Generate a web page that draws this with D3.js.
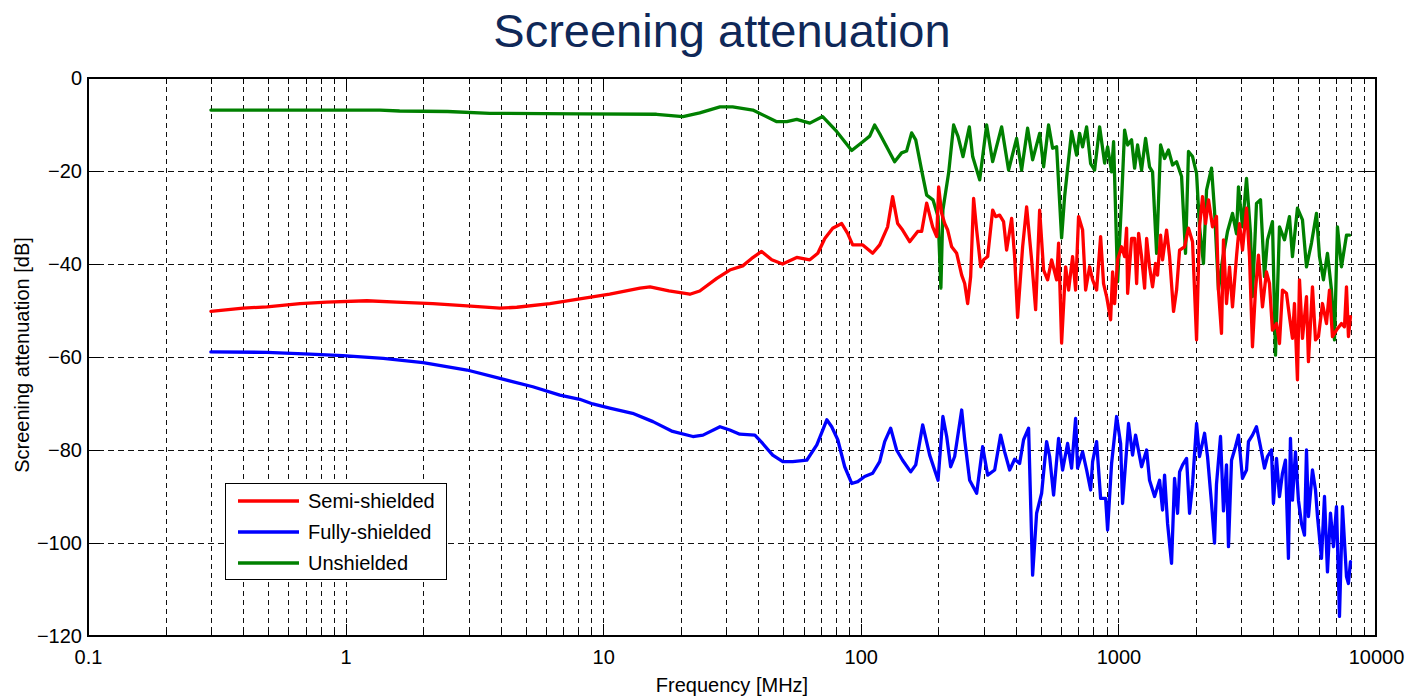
<!DOCTYPE html>
<html>
<head>
<meta charset="utf-8">
<script src="https://cdn.jsdelivr.net/npm/d3@7"></script>
<style>
  html, body { margin: 0; padding: 0; background: #fff; }
  svg { display: block; font-family: "Liberation Sans", Arial, sans-serif; }
</style>
</head>
<body>
<svg id="chart" width="1408" height="696"></svg>
<script>
// ---- data (frequency in MHz, screening attenuation in dB) ----
const title = "Screening attenuation";
const xLabel = "Frequency [MHz]";
const yLabel = "Screening attenuation [dB]";
const xTickValues = [0.1, 1, 10, 100, 1000, 10000];
const xTickLabels = ["0.1", "1", "10", "100", "1000", "10000"];
const yTickValues = [0, -20, -40, -60, -80, -100, -120];
const seriesNames = ["Semi-shielded", "Fully-shielded", "Unshielded"];
const seriesColors = ["#ff0000", "#0000ff", "#008000"];

const semiShielded = [
[0.3,-50.2],[0.4,-49.5],[0.495,-49.2],[0.665,-48.5],[0.846,-48.2],[1.21,-47.9],[1.58,-48.2],[2.18,-48.5],[2.96,-49.0],[3.97,-49.5],[4.62,-49.3],[6.21,-48.5],[8.11,-47.5],[10.6,-46.5],[13.9,-45.2],[15.2,-44.9],[18.0,-45.8],[21.7,-46.5],[23.7,-45.8],[27.6,-43.1],[31.0,-41.3],[34.8,-40.4],[37.7,-38.8],[41.2,-37.3],[45.1,-39.1],[49.7,-40.0],[56.4,-38.6],[63.4,-39.1],[68.1,-37.7],[72.5,-34.5],[77.8,-32.3],[84.3,-31.3],[88.9,-33.4],[93.0,-35.9],[101.8,-35.9],[111.2,-37.7],[118.4,-35.9],[127.1,-32.0],[132.9,-25.5],[139.0,-31.3],[145.3,-32.7],[154.8,-35.2],[166.3,-33.0],[172.3,-33.0],[180.2,-26.9],[190.1,-32.0],[197.1,-34.1],[200.6,-23.4],[206.0,-29.1],[211.7,-31.3],[217.4,-32.7],[225.3,-36.3],[235.6,-37.7],[246.4,-42.4],[253.1,-44.2],[259.9,-48.5],[267.0,-42.7],[274.1,-25.9],[281.7,-32.7],[292.0,-40.6],[299.8,-39.1],[310.8,-38.4],[325.0,-28.4],[333.9,-29.8],[345.9,-29.5],[358.3,-30.9],[368.2,-37.0],[385.1,-30.2],[395.5,-38.4],[406.2,-51.5],[424.8,-36.3],[440.3,-27.7],[460.4,-39.1],[477.2,-49.8],[494.6,-28.4],[512.4,-41.3],[531.1,-43.4],[550.5,-39.1],[575.7,-43.4],[585.9,-35.5],[601.9,-57.0],[623.9,-40.6],[640.8,-45.6],[664.1,-38.4],[682.2,-45.6],[700.4,-29.8],[726.2,-32.7],[746.1,-45.6],[773.2,-40.6],[794.1,-43.4],[823.1,-45.6],[853.0,-34.1],[875.8,-44.2],[900.0,-47.0],[932.8,-52.0],[949.5,-41.7],[966.8,-48.5],[993,-39.1],[1029,-36.3],[1057,-38.4],[1076,-32.3],[1086,-46.3],[1125,-34.5],[1156,-34.5],[1177,-44.2],[1198,-33.4],[1230,-38.4],[1264,-45.2],[1287,-34.5],[1321,-40.6],[1357,-44.9],[1394,-39.9],[1419,-42.4],[1458,-33.8],[1484,-39.1],[1538,-32.7],[1580,-38.4],[1637,-50.2],[1682,-45.6],[1728,-37.0],[1806,-36.3],[1871,-32.3],[1940,-35.2],[2011,-56.3],[2065,-32.0],[2121,-25.5],[2179,-31.3],[2238,-26.2],[2319,-32.0],[2403,-29.8],[2446,-45.6],[2513,-54.9],[2558,-34.8],[2628,-48.5],[2700,-40.6],[2773,-49.2],[2874,-38.4],[2952,-31.3],[3032,-37.0],[3143,-28.0],[3228,-38.4],[3315,-57.8],[3405,-45.6],[3497,-38.1],[3625,-49.2],[3757,-41.7],[3859,-44.2],[3963,-54.2],[4109,-52.8],[4220,-57.1],[4334,-45.6],[4492,-46.3],[4614,-51.3],[4739,-56.0],[4825,-48.5],[4955,-64.9],[5047,-43.4],[5183,-56.0],[5372,-47.0],[5467,-61.0],[5667,-44.9],[5823,-56.3],[5979,-55.6],[6197,-48.5],[6424,-52.8],[6598,-45.6],[6776,-55.6],[7024,-54.2],[7345,-52.8],[7545,-53.5],[7681,-44.9],[7817,-55.6],[7960,-51.3]
];

const fullyShielded = [
[0.3,-58.9],[0.495,-59.0],[0.727,-59.4],[0.976,-59.7],[1.40,-60.3],[2.00,-61.2],[2.96,-62.8],[3.97,-64.6],[5.33,-66.4],[6.79,-68.2],[8.11,-69.1],[9.11,-70.1],[10.6,-71.0],[13.0,-72.1],[15.6,-73.9],[18.6,-76.0],[22.3,-77.1],[24.4,-76.8],[28.4,-75.0],[31.0,-75.7],[33.9,-76.6],[38.8,-76.8],[41.6,-78.6],[45.5,-81.1],[49.8,-82.5],[54.4,-82.5],[61.7,-82.2],[67.5,-78.9],[73.8,-73.5],[77.1,-75.0],[81.4,-77.8],[86.6,-83.6],[92.2,-87.2],[97.3,-86.8],[103.5,-85.7],[111.2,-85.0],[118.4,-82.5],[123.8,-78.2],[130.6,-75.3],[137.7,-80.0],[145.3,-82.2],[156.2,-84.7],[163.4,-83.2],[173.9,-74.6],[185.1,-81.1],[199.5,-86.5],[208.3,-72.8],[215.5,-77.1],[223.3,-83.6],[231.4,-81.4],[246.4,-71.4],[253.1,-77.8],[264.6,-86.5],[281.7,-89.3],[297.2,-79.3],[310.8,-85.4],[330.9,-84.3],[349.0,-76.8],[361.7,-80.4],[378.3,-84.3],[395.5,-82.0],[413.6,-82.9],[428.5,-77.8],[448.1,-75.3],[464.5,-106.9],[481.4,-93.6],[503.5,-89.3],[526.4,-78.2],[540.8,-81.4],[560.3,-89.7],[585.9,-77.5],[607.3,-84.3],[635.0,-78.6],[658.2,-83.9],[682.2,-73.2],[694.4,-83.9],[726.2,-80.4],[752.7,-84.3],[780.2,-88.6],[794.1,-82.5],[823.1,-78.2],[853.0,-90.4],[892.1,-90.4],[908,-97.2],[941,-82.9],[984.2,-72.8],[1020,-78.6],[1038,-91.5],[1095,-74.3],[1135,-81.1],[1166,-76.8],[1230,-83.6],[1287,-80.0],[1321,-86.5],[1382,-90.0],[1445,-86.5],[1484,-92.9],[1511,-85.4],[1552,-95.8],[1608,-104.4],[1652,-86.1],[1697,-93.6],[1728,-84.7],[1775,-83.2],[1839,-81.8],[1889,-93.6],[1940,-87.4],[2011,-74.3],[2065,-81.4],[2160,-76.4],[2218,-81.4],[2299,-91.5],[2361,-100.0],[2403,-87.4],[2491,-77.1],[2558,-93.1],[2628,-83.2],[2675,-100.8],[2749,-82.2],[2848,-79.3],[2925,-76.8],[3032,-86.1],[3143,-84.3],[3198,-78.2],[3315,-76.8],[3436,-75.0],[3562,-79.3],[3691,-83.9],[3791,-81.4],[3928,-80.0],[3998,-91.5],[4109,-81.8],[4220,-90.0],[4334,-85.0],[4453,-82.2],[4572,-103.3],[4655,-77.5],[4739,-90.8],[4868,-80.4],[4999,-90.8],[5138,-95.8],[5277,-98.3],[5372,-80.0],[5467,-94.3],[5667,-84.3],[5823,-88.6],[5927,-94.3],[6143,-103.3],[6310,-90.0],[6480,-106.2],[6657,-93.6],[6836,-100.8],[7024,-92.2],[7215,-115.8],[7410,-92.2],[7681,-107.2],[7817,-108.7],[7960,-104.0]
];

const unshielded = [
[0.3,-6.9],[1.36,-6.9],[1.62,-7.1],[2.49,-7.2],[3.63,-7.6],[8.11,-7.7],[16.1,-7.8],[20.4,-8.3],[23.7,-7.5],[28.4,-6.2],[31.8,-6.2],[38.1,-6.9],[47.2,-9.4],[51.6,-9.4],[56.4,-8.9],[63.4,-9.7],[71.1,-8.3],[80.6,-11.5],[92.2,-15.6],[101.8,-13.7],[108.3,-12.5],[113.2,-10.1],[118.4,-12.0],[126.0,-14.8],[135.3,-18.0],[144.0,-16.1],[150.6,-15.7],[157.5,-11.8],[163.4,-13.3],[172.2,-19.8],[180.2,-25.2],[190.6,-26.2],[199.5,-29.8],[204.6,-45.2],[208.3,-28.4],[219.3,-20.4],[229.3,-10.1],[238.6,-12.6],[249.3,-16.9],[263.9,-10.5],[271.8,-16.9],[289.4,-21.9],[308.0,-10.1],[325.0,-18.0],[352.1,-10.5],[374.7,-19.8],[402.6,-13.0],[421.0,-19.8],[444.2,-10.8],[464.5,-17.6],[494.6,-11.9],[512.4,-19.1],[535.7,-10.1],[555.4,-15.1],[575.7,-14.8],[601.9,-34.4],[618.3,-25.5],[658.2,-11.5],[688.3,-16.6],[707.1,-11.9],[726.2,-14.8],[752.7,-10.5],[780.2,-18.4],[808.5,-19.8],[845.4,-10.5],[884.1,-18.3],[908,-14.8],[941,-20.2],[958,-13.7],[993,-43.8],[1029,-26.2],[1057,-11.2],[1086,-14.4],[1125,-13.3],[1156,-19.4],[1187,-14.4],[1230,-19.8],[1275,-13.0],[1321,-19.1],[1357,-20.2],[1407,-37.7],[1458,-14.4],[1511,-17.3],[1565,-15.5],[1623,-18.7],[1682,-18.0],[1759,-21.2],[1822,-37.7],[1871,-15.8],[1940,-16.9],[2011,-20.5],[2065,-32.0],[2139,-39.9],[2199,-24.1],[2299,-19.4],[2361,-28.4],[2446,-45.6],[2536,-39.1],[2652,-33.0],[2773,-29.1],[2874,-33.5],[2925,-23.4],[3032,-32.0],[3143,-21.6],[3257,-33.4],[3315,-47.0],[3436,-27.0],[3562,-26.2],[3691,-42.7],[3791,-34.8],[3963,-30.9],[4072,-59.6],[4220,-32.0],[4413,-34.8],[4614,-29.8],[4739,-38.4],[4955,-28.0],[5183,-30.5],[5372,-40.6],[5617,-35.5],[5875,-29.1],[6034,-38.4],[6251,-43.4],[6480,-37.7],[6717,-45.6],[6900,-56.3],[7086,-32.0],[7345,-40.6],[7681,-33.8],[7889,-33.8]
];

// ---- layout ----
const svg = d3.select("#chart");
const plot = { left: 88, top: 78, right: 1376, bottom: 636 };

const x = d3.scaleLog().domain([0.1, 10000]).range([plot.left, plot.right]);
const y = d3.scaleLinear().domain([-120, 0]).range([plot.bottom, plot.top]);

// title
svg.append("text")
  .attr("x", 722).attr("y", 47)
  .attr("text-anchor", "middle")
  .attr("font-size", 47)
  .attr("fill", "#0f2858")
  .text(title);

// grid
const gridG = svg.append("g");
const minorX = [];
for (let dec = 0.1; dec < 10000; dec *= 10) {
  for (let k = 1; k <= 9; k++) {
    const v = +(dec * k).toPrecision(6);
    if (v > 0.1 && v < 10000) minorX.push(v);
  }
}
gridG.selectAll("line.vg").data(minorX).join("line")
  .attr("class", "vg")
  .attr("x1", d => Math.round(x(d)) + 0.5).attr("x2", d => Math.round(x(d)) + 0.5)
  .attr("y1", plot.top).attr("y2", plot.bottom)
  .attr("stroke", "#111").attr("stroke-width", 1)
  .attr("stroke-dasharray", "5,4");
gridG.selectAll("line.hg").data(yTickValues.filter(v => v > -120 && v < 0)).join("line")
  .attr("class", "hg")
  .attr("x1", plot.left).attr("x2", plot.right)
  .attr("y1", d => Math.round(y(d)) + 0.5).attr("y2", d => Math.round(y(d)) + 0.5)
  .attr("stroke", "#111").attr("stroke-width", 1)
  .attr("stroke-dasharray", "6,4");

// axes (ticks inside, on all sides)
const tickG = svg.append("g").attr("stroke", "#000").attr("stroke-width", 1);
minorX.concat(xTickValues).forEach(v => {
  const major = xTickValues.includes(v);
  const len = major ? 12 : 6;
  const px = Math.round(x(v)) + 0.5;
  tickG.append("line").attr("x1", px).attr("x2", px).attr("y1", plot.bottom).attr("y2", plot.bottom - len);
  tickG.append("line").attr("x1", px).attr("x2", px).attr("y1", plot.top).attr("y2", plot.top + len);
});
yTickValues.forEach(v => {
  const py = Math.round(y(v)) + 0.5;
  tickG.append("line").attr("x1", plot.left).attr("x2", plot.left + 12).attr("y1", py).attr("y2", py);
  tickG.append("line").attr("x1", plot.right).attr("x2", plot.right - 12).attr("y1", py).attr("y2", py);
});

// x tick labels via axis
const xAxis = d3.axisBottom(x).tickValues(xTickValues)
  .tickFormat((d, i) => xTickLabels[i]).tickSize(0).tickPadding(14);
const gx = svg.append("g").attr("transform", `translate(0,${plot.bottom})`).call(xAxis);
gx.select(".domain").remove();
gx.selectAll("text").attr("font-size", 20).attr("fill", "#000")
  .attr("font-family", "Liberation Sans, Arial, sans-serif");

const yAxis = d3.axisLeft(y).tickValues(yTickValues).tickSize(0).tickPadding(6);
const gy = svg.append("g").attr("transform", `translate(${plot.left},0)`).call(yAxis);
gy.select(".domain").remove();
gy.selectAll("text").attr("font-size", 20).attr("fill", "#000")
  .attr("font-family", "Liberation Sans, Arial, sans-serif");

// axis labels
svg.append("text").attr("x", (plot.left + plot.right) / 2).attr("y", 692)
  .attr("text-anchor", "middle").attr("font-size", 20).text(xLabel);
svg.append("text")
  .attr("transform", `translate(29,${(plot.top + plot.bottom) / 2 - 2}) rotate(-90)`)
  .attr("text-anchor", "middle").attr("font-size", 20).text(yLabel);

// series
const line = d3.line().x(d => x(d[0])).y(d => y(d[1]));
const seriesData = [unshielded, semiShielded, fullyShielded];
const seriesCol = [seriesColors[2], seriesColors[0], seriesColors[1]];
const clip = svg.append("clipPath").attr("id", "clip").append("rect")
  .attr("x", plot.left).attr("y", plot.top)
  .attr("width", plot.right - plot.left).attr("height", plot.bottom - plot.top);
const seriesG = svg.append("g").attr("clip-path", "url(#clip)");
seriesData.forEach((s, i) => {
  seriesG.append("path").datum(s)
    .attr("d", line)
    .attr("fill", "none")
    .attr("stroke", seriesCol[i])
    .attr("stroke-width", 3.3)
    .attr("stroke-linejoin", "round")
    .attr("stroke-linecap", "round");
});

// frame
svg.append("rect")
  .attr("x", plot.left).attr("y", plot.top)
  .attr("width", plot.right - plot.left).attr("height", plot.bottom - plot.top)
  .attr("fill", "none").attr("stroke", "#000").attr("stroke-width", 2);

// legend
const lg = svg.append("g");
lg.append("rect").attr("x", 225.5).attr("y", 483.5).attr("width", 221).attr("height", 96)
  .attr("fill", "#fff").attr("stroke", "#000").attr("stroke-width", 1);
seriesNames.forEach((name, i) => {
  const ly = 501 + i * 31;
  lg.append("line").attr("x1", 238).attr("x2", 299).attr("y1", ly).attr("y2", ly)
    .attr("stroke", seriesColors[i]).attr("stroke-width", 3.3);
  lg.append("text").attr("x", 308).attr("y", ly + 7).attr("font-size", 20).text(name);
});
</script>
</body>
</html>
